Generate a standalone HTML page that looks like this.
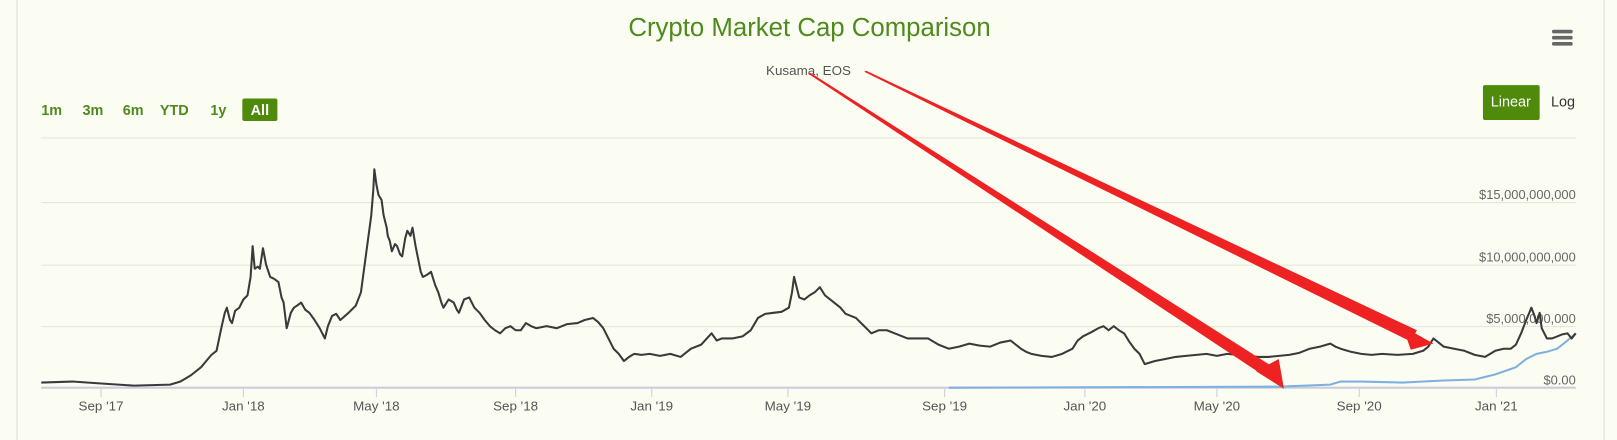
<!DOCTYPE html>
<html><head><meta charset="utf-8"><style>
html,body{margin:0;padding:0;background:#fbfdf3;}
svg{display:block}
text{font-family:"Liberation Sans",sans-serif}
</style></head><body>
<svg width="1617" height="440" viewBox="0 0 1568 429" preserveAspectRatio="none" xmlns="http://www.w3.org/2000/svg">
<rect width="1568" height="429" fill="#fbfdf3"/>
<line x1="16.5" y1="0" x2="16.5" y2="429" stroke="#ddd"/>
<line x1="1555.5" y1="0" x2="1555.5" y2="429" stroke="#ddd"/>
<text x="785" y="35" text-anchor="middle" font-size="25" fill="#4f8a1c">Crypto Market Cap Comparison</text>
<text x="784" y="73" text-anchor="middle" font-size="13" fill="#555">Kusama, EOS</text>
<g fill="#666"><rect x="1505" y="29" width="20" height="3.5" rx="1.5"/><rect x="1505" y="35" width="20" height="3.5" rx="1.5"/><rect x="1505" y="41" width="20" height="3.5" rx="1.5"/></g>
<g font-size="14" font-weight="bold" fill="#4f8a1c">
<text x="40" y="112">1m</text><text x="80" y="112">3m</text><text x="119" y="112">6m</text><text x="155" y="112">YTD</text><text x="204" y="112">1y</text>
</g>
<rect x="235" y="96" width="34" height="22" rx="2" fill="#4f8a0b"/>
<text x="252" y="112" text-anchor="middle" font-size="14" font-weight="bold" fill="#fff">All</text>
<rect x="1438" y="83" width="55" height="34" rx="2" fill="#4f8a0b"/>
<text x="1465" y="104" text-anchor="middle" font-size="14" fill="#fff">Linear</text>
<text x="1504" y="104" font-size="14" fill="#333">Log</text>
<g stroke="#e3e6dc" stroke-width="1">
<line x1="40" y1="134.5" x2="1528" y2="134.5"/><line x1="40" y1="197.5" x2="1528" y2="197.5"/><line x1="40" y1="258.5" x2="1528" y2="258.5"/><line x1="40" y1="318.5" x2="1528" y2="318.5"/>
</g>
<line x1="40" y1="378" x2="1528" y2="378" stroke="#ccd" stroke-width="2"/>
<g font-size="12.5" fill="#666" text-anchor="end">
<text x="1528" y="194">$15,000,000,000</text><text x="1528" y="255">$10,000,000,000</text><text x="1528" y="315">$5,000,000,000</text><text x="1528" y="375">$0.00</text>
</g>
<g stroke="#ccd"><line x1="98" y1="379" x2="98" y2="387"/><line x1="236" y1="379" x2="236" y2="387"/><line x1="365" y1="379" x2="365" y2="387"/><line x1="500" y1="379" x2="500" y2="387"/><line x1="632" y1="379" x2="632" y2="387"/><line x1="764" y1="379" x2="764" y2="387"/><line x1="916" y1="379" x2="916" y2="387"/><line x1="1052" y1="379" x2="1052" y2="387"/><line x1="1180" y1="379" x2="1180" y2="387"/><line x1="1318" y1="379" x2="1318" y2="387"/><line x1="1451" y1="379" x2="1451" y2="387"/></g>
<g font-size="13" fill="#555" text-anchor="middle">
<text x="98" y="400">Sep '17</text><text x="236" y="400">Jan '18</text><text x="365" y="400">May '18</text><text x="500" y="400">Sep '18</text><text x="632" y="400">Jan '19</text><text x="764" y="400">May '19</text><text x="916" y="400">Sep '19</text><text x="1052" y="400">Jan '20</text><text x="1180" y="400">May '20</text><text x="1318" y="400">Sep '20</text><text x="1451" y="400">Jan '21</text>
</g>
<polyline fill="none" stroke="#7fb0e0" stroke-width="2" points="920,378 1240,377 1290,375 1300,372 1320,372 1360,373 1400,371 1430,370 1450,365 1470,358 1480,350 1490,345 1500,343 1510,340 1520,332 1528,325"/>
<polyline fill="none" stroke="#3a3a3a" stroke-width="2" stroke-linejoin="round" points="40,373 70,372 100,374 130,376 165,375 175,372 185,366 195,358 200,352 205,346 210,342 215,318 218,305 220,300 223,312 225,315 228,303 232,300 236,292 240,288 243,270 245,240 247,262 250,260 252,262 255,242 258,258 262,270 266,272 270,275 273,290 275,295 278,320 282,305 285,300 288,298 292,295 296,302 300,305 305,312 310,320 315,330 318,318 322,308 326,306 330,312 338,305 345,298 350,285 352,270 356,240 360,210 362,185 363,165 365,180 367,190 370,195 372,210 375,222 376,230 378,235 380,245 383,238 385,240 388,248 390,250 393,232 395,225 398,230 400,222 403,240 405,250 408,265 410,270 414,268 418,265 422,278 425,285 428,295 430,300 435,292 440,295 443,302 445,305 450,292 455,290 460,300 465,305 470,312 475,318 480,322 485,325 490,320 495,318 500,322 505,322 510,315 515,318 520,320 530,318 540,320 550,316 560,315 567,312 575,310 580,314 585,320 590,330 595,340 600,345 605,352 610,348 615,345 622,346 630,345 640,347 650,345 660,348 670,340 680,336 690,325 695,332 700,330 710,330 720,328 728,322 735,310 742,306 750,305 758,304 765,300 768,285 770,270 773,282 775,290 780,292 785,288 790,285 795,280 800,288 805,292 810,296 815,300 820,306 830,310 838,318 845,325 852,322 860,322 870,326 880,330 890,330 900,330 910,336 920,340 930,338 940,335 950,337 960,338 970,334 980,332 985,336 990,340 995,343 1000,345 1010,347 1020,348 1030,345 1040,340 1045,332 1050,328 1058,324 1065,320 1070,318 1075,322 1080,318 1085,322 1090,325 1095,333 1100,340 1105,345 1110,355 1120,352 1130,350 1140,348 1150,347 1160,346 1170,345 1180,347 1190,345 1200,346 1210,347 1220,348 1230,348 1240,347 1250,346 1260,344 1270,340 1280,338 1290,335 1295,338 1300,340 1310,343 1320,345 1330,346 1340,345 1355,346 1370,345 1380,342 1385,338 1390,330 1395,334 1400,338 1410,340 1420,342 1430,346 1440,348 1445,345 1450,342 1458,340 1465,340 1470,336 1475,325 1480,312 1485,300 1488,308 1490,315 1493,305 1495,320 1500,330 1505,330 1510,328 1515,326 1520,325 1524,330 1528,325"/>
<g fill="#ee2222">
<polygon points="784,72 786,71 1238,360 1228,368"/>
<polygon points="1218,362 1245,379 1240,350"/>
<polygon points="838,70 840,69 1374,322 1368,333"/>
<polygon points="1360,318 1390,335 1368,341"/>
</g>
</svg>
</body></html>
